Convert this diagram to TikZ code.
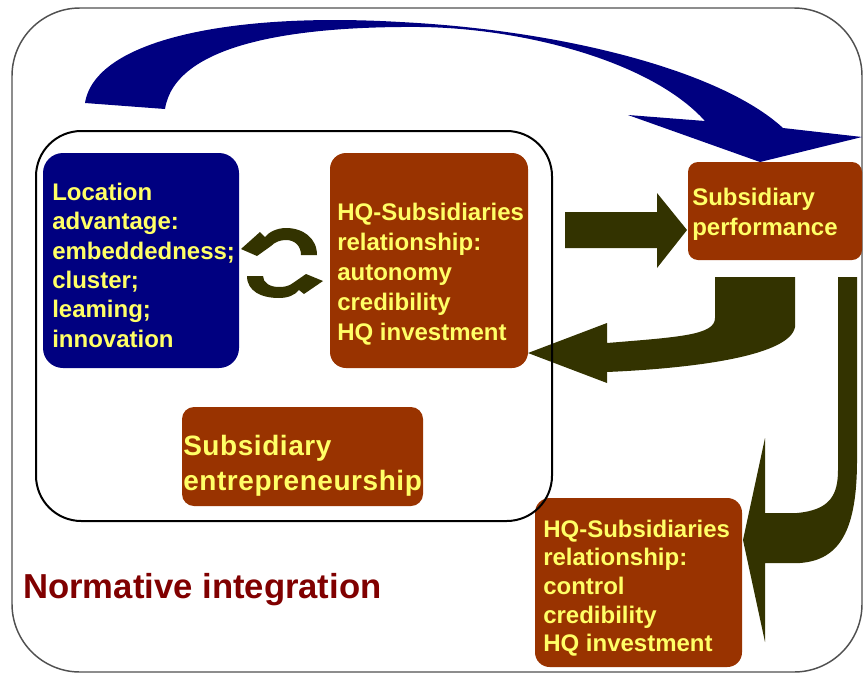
\documentclass[tikz,border=0pt]{standalone}
\usepackage{fontspec}
\setmainfont{Liberation Sans}
\usepackage{tikz}

\begin{document}
\begin{tikzpicture}[x=0.75pt,y=0.75pt,yscale=-1,xscale=1,
  navybox/.style={fill={rgb, 255:red, 0; green, 0; blue, 128 }, rounded corners=15pt, inner sep=0pt},
  brownbox/.style={fill={rgb, 255:red, 153; green, 51; blue, 0 }, rounded corners=9pt, inner sep=0pt},
  boxtext/.style={anchor=north west, inner sep=0pt, align=left, text={rgb, 255:red, 255; green, 255; blue, 102 }, font=\fontsize{18}{22}\selectfont\bfseries},
  olivearrow/.style={fill={rgb, 255:red, 51; green, 51; blue, 0 }},
  navyarrow/.style={fill={rgb, 255:red, 0; green, 0; blue, 128 }}
]
\useasboundingbox (0,0) rectangle (863,675);

%Shape: Rounded Rect (outer frame)
\draw [color={rgb, 255:red, 80; green, 80; blue, 80 }, line width=1.1pt, rounded corners=51pt] (12,8) rectangle (862,672);

%Shape: Rounded Rect
\node [navybox, minimum width=147pt, minimum height=161.25pt] (locbox) at (141,260.5) {};
%Shape: Rounded Rect
\node [brownbox, rounded corners=12pt, minimum width=148.5pt, minimum height=161.25pt] (hqbox) at (429,260.5) {};
%Shape: Rounded Rect
\node [brownbox, rounded corners=7.5pt, minimum width=130.5pt, minimum height=73.5pt] (perfbox) at (775,211) {};
%Shape: Rounded Rect
\node [brownbox, minimum width=180.75pt, minimum height=74.25pt] (entrbox) at (302.5,456.5) {};
%Shape: Rounded Rect
\node [brownbox, rounded corners=11pt, minimum width=155.25pt, minimum height=126.75pt] (ctrlbox) at (638.5,582.5) {};

%Curve Lines (top arrow)
\fill [navyarrow] (85,103) .. controls (95,40) and (230,12) .. (400,22) .. controls (560,30) and (720,70) .. (783,128) -- (862,137) -- (760,162) -- (628,115) -- (705,121) .. controls (650,60) and (520,28) .. (420,27) .. controls (290,26) and (175,45) .. (165,109) -- cycle ;

%Shape: Right Arrow
\fill [olivearrow] (565,212) -- (657,212) -- (657,193) -- (687,230) -- (657,268) -- (657,248) -- (565,248) -- cycle ;

%Curve Lines (back arrow)
\fill [olivearrow] (715,277) -- (795,277) -- (795,327) .. controls (790,355) and (700,368) .. (607,372) -- (607,383) -- (528,353) -- (607,323) -- (607,343) .. controls (680,337) and (715,335) .. (715,318) -- cycle ;

%Curve Lines (down arrow)
\fill [olivearrow] (838,277) -- (857,277) -- (857,460) .. controls (857,530) and (840,560) .. (800,563) -- (765,563) -- (765,642) -- (743,540) -- (765,438) -- (765,513) -- (797,513) .. controls (830,510) and (838,495) .. (838,470) -- cycle ;

%Curve Lines (circular arrows)
\fill [olivearrow] (317,255) .. controls (317,238) and (303,228) .. (286,228) .. controls (277,228) and (269,232) .. (265,237) -- (260,232) -- (241,249) -- (257,256) -- (271,246) .. controls (275,242) and (280,240) .. (286,240) .. controls (295,240) and (301,246) .. (301,255) -- cycle ;
\fill [olivearrow] (247,276) .. controls (247,291) and (261,298) .. (279,298) .. controls (288,298) and (295,295) .. (299,290) -- (304,294) -- (323,281) -- (306,274) -- (293,283) .. controls (289,286) and (285,287) .. (279,287) .. controls (270,287) and (263,283) .. (263,276) -- cycle ;

%Shape: Rounded Rect (inner frame)
\draw [line width=1.5pt, rounded corners=34pt] (36,131) rectangle (552,521);

% Text Node
\node [boxtext] (loctext) at (52,183) {Location\\advantage:\\embeddedness;\\cluster;\\leaming;\\innovation};
% Text Node
\node [boxtext, font=\fontsize{18}{22.5}\selectfont\bfseries] (hqtext) at (337,202.5) {HQ-Subsidiaries\\relationship:\\autonomy\\credibility\\HQ investment};
% Text Node
\node [boxtext, font=\fontsize{18}{22.5}\selectfont\bfseries] (perftext) at (692,188) {Subsidiary\\performance};
% Text Node
\node [boxtext, font=\fontsize{21}{26.25}\selectfont\bfseries\addfontfeature{LetterSpace=2}] (entrtext) at (183,435) {Subsidiary\\entrepreneurship};
% Text Node
\node [boxtext, font=\fontsize{18}{21.5}\selectfont\bfseries] (ctrltext) at (543,519.5) {HQ-Subsidiaries\\relationship:\\control\\credibility\\HQ investment};
% Text Node
\node [anchor=north west, inner sep=0pt, text={rgb, 255:red, 128; green, 0; blue, 0 }, font=\fontsize{26}{30}\selectfont\bfseries] (normtext) at (23,573) {Normative integration};

\end{tikzpicture}
\end{document}
